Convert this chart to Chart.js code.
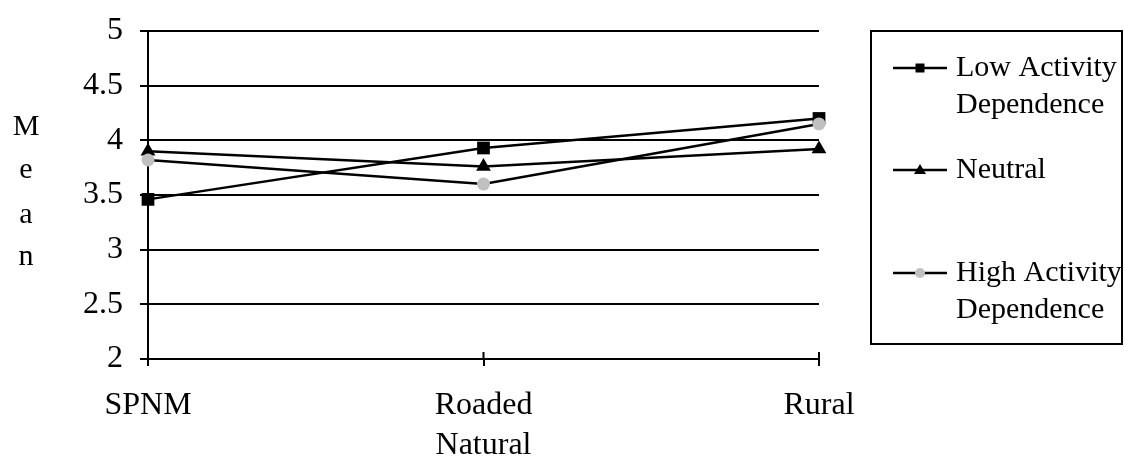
<!DOCTYPE html>
<html>
<head>
<meta charset="utf-8">
<script src="https://cdn.jsdelivr.net/npm/chart.js@4/dist/chart.umd.min.js"></script>
<style>
  html, body { margin: 0; padding: 0; background: #fff; }
  #wrap { width: 1125px; height: 458px; position: relative; }
</style>
</head>
<body>
<div id="wrap"><canvas id="meanChart"></canvas></div>
<script>
// Chart data
const categories = ['SPNM', ['Roaded', 'Natural'], 'Rural'];
const lowActivity = [3.46, 3.93, 4.2];
const neutral = [3.9, 3.76, 3.92];
const highActivity = [3.82, 3.6, 4.15];
const yMin = 2;
const yMax = 5;
const yStep = 0.5;
const axisTitle = 'Mean';

const serif = "'Liberation Serif', 'Times New Roman', serif";
const grey = '#c0c0c0';

// legend rows: label lines, marker
const legendItems = [
    { lines: ['Low Activity', 'Dependence'], style: 'rect', color: '#000', y: 68 },
    { lines: ['Neutral'], style: 'triangle', color: '#000', y: 170 },
    { lines: ['High Activity', 'Dependence'], style: 'circle', color: grey, y: 273 }
];

function drawMarker(ctx, style, x, y, size, color) {
    ctx.fillStyle = color;
    ctx.beginPath();
    if (style === 'rect') {
        ctx.rect(x - size / 2, y - size / 2, size, size);
    } else if (style === 'triangle') {
        ctx.moveTo(x, y - size * 0.6);
        ctx.lineTo(x + size * 0.6, y + size * 0.4);
        ctx.lineTo(x - size * 0.6, y + size * 0.4);
        ctx.closePath();
    } else {
        ctx.arc(x, y, size / 2, 0, Math.PI * 2);
    }
    ctx.fill();
}

const extrasPlugin = {
    id: 'extras',
    afterDraw: function(chart) {
        const ctx = chart.ctx;
        const xs = chart.scales.x;
        const area = chart.chartArea;
        ctx.save();

        // x tick marks above the axis
        ctx.strokeStyle = '#000';
        ctx.lineWidth = 2;
        for (let i = 0; i < categories.length; i++) {
            const px = xs.getPixelForTick(i);
            ctx.beginPath();
            ctx.moveTo(px, area.bottom - 7);
            ctx.lineTo(px, area.bottom);
            ctx.stroke();
        }

        // stacked letters of the axis title
        ctx.fillStyle = '#000';
        ctx.font = '30px ' + serif;
        ctx.textAlign = 'center';
        ctx.textBaseline = 'alphabetic';
        const baselines = [135, 178, 223, 265];
        axisTitle.split('').forEach(function(ch, i) {
            ctx.fillText(ch, 26, baselines[i]);
        });

        // legend box
        ctx.strokeRect(871, 31, 251, 313);
        ctx.textAlign = 'left';
        ctx.textBaseline = 'middle';
        legendItems.forEach(function(item) {
            ctx.strokeStyle = '#000';
            ctx.lineWidth = 2.5;
            ctx.beginPath();
            ctx.moveTo(893, item.y);
            ctx.lineTo(947, item.y);
            ctx.stroke();
            drawMarker(ctx, item.style, 920, item.y, item.style === 'rect' ? 9 : 10, item.color);
            ctx.fillStyle = '#000';
            item.lines.forEach(function(line, j) {
                ctx.fillText(line, 956, item.y + j * 37);
            });
        });
        ctx.restore();
    }
};

document.addEventListener('DOMContentLoaded', function() {
    const ctx = document.getElementById('meanChart').getContext('2d');

    const meanChart = new Chart(ctx, {
        type: 'line',
        data: {
            labels: categories,
            datasets: [{
                label: 'Low Activity Dependence',
                data: lowActivity,
                borderColor: '#000',
                borderWidth: 2.5,
                pointStyle: 'rect',
                pointRadius: 9,
                pointBackgroundColor: '#000',
                pointBorderColor: '#000',
                pointBorderWidth: 0,
                order: 3
            }, {
                label: 'Neutral',
                data: neutral,
                borderColor: '#000',
                borderWidth: 2.5,
                pointStyle: 'triangle',
                pointRadius: 8.5,
                pointBackgroundColor: '#000',
                pointBorderColor: '#000',
                pointBorderWidth: 0,
                order: 2
            }, {
                label: 'High Activity Dependence',
                data: highActivity,
                borderColor: '#000',
                borderWidth: 2.5,
                pointStyle: 'circle',
                pointRadius: 6.5,
                pointBackgroundColor: grey,
                pointBorderColor: grey,
                pointBorderWidth: 0,
                order: 1
            }]
        },
        options: {
            responsive: true,
            maintainAspectRatio: false,
            animation: false,
            clip: false,
            layout: {
                padding: { left: 0, top: 31, right: 306, bottom: 0 }
            },
            plugins: {
                legend: { display: false },
                tooltip: { enabled: false }
            },
            elements: {
                line: { tension: 0 }
            },
            scales: {
                x: {
                    offset: false,
                    afterFit: function(scale) {
                        scale.height = 99;
                        scale.paddingLeft = 0;
                        scale.paddingRight = 0;
                    },
                    border: { display: true, color: '#000', width: 2 },
                    grid: {
                        drawOnChartArea: false,
                        color: '#000',
                        lineWidth: 2,
                        tickLength: 7
                    },
                    ticks: {
                        color: '#000',
                        padding: 19,
                        maxRotation: 0,
                        autoSkip: false,
                        font: { family: serif, size: 32, lineHeight: 1.27 }
                    }
                },
                y: {
                    min: yMin,
                    max: yMax,
                    afterFit: function(scale) {
                        scale.width = 148;
                        scale.paddingTop = 0;
                        scale.paddingBottom = 0;
                    },
                    border: { display: true, color: '#000', width: 2 },
                    grid: {
                        color: '#000',
                        lineWidth: 2,
                        tickLength: 8
                    },
                    ticks: {
                        stepSize: yStep,
                        color: '#000',
                        padding: 17,
                        font: { family: serif, size: 32 },
                        callback: function(value) {
                            return String(value);
                        }
                    }
                }
            }
        },
        plugins: [extrasPlugin]
    });
});
</script>
</body>
</html>
